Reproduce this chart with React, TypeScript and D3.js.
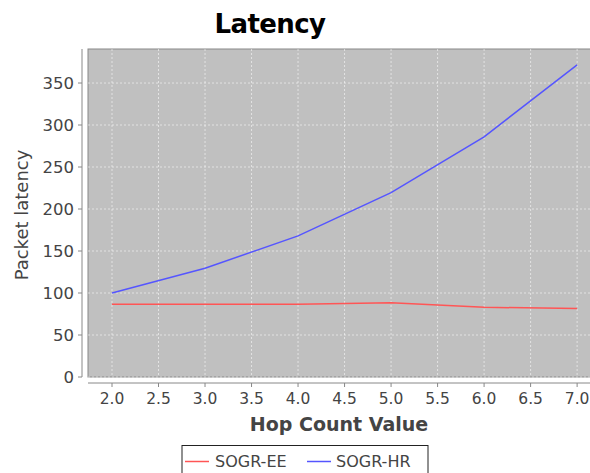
import React, { useEffect } from 'react';
import * as d3 from 'd3';

const hops = [2, 3, 4, 5, 6, 7];
const sogrEE = [86.5, 86.5, 86.5, 88.5, 83, 81.5];
const sogrHR = [100, 129.5, 168, 219.5, 286, 371.5];
const xTicks = [2, 2.5, 3, 3.5, 4, 4.5, 5, 5.5, 6, 6.5, 7];
const yTicks = [0, 50, 100, 150, 200, 250, 300, 350];
const seriesNames = ['SOGR-EE', 'SOGR-HR'];
const seriesColors = ['#ff5555', '#5555ff'];

const W = 590;
const H = 473;
const plot = { left: 88, right: 592, top: 49, bottom: 377 };

const App: React.FC = () => {
  useEffect(() => {
    document.body.style.margin = '0';
  }, []);

  const x = d3.scaleLinear().domain([1.742, 7.16]).range([plot.left, plot.right]);
  const y = d3.scaleLinear().domain([0, 390.5]).range([plot.bottom, plot.top]);

  const line = d3
    .line<number>()
    .x((_, i) => x(hops[i]))
    .y((d) => y(d));

  const font = '"DejaVu Sans", sans-serif';
  const axisColor = '#888';
  const textColor = '#444';

  return (
    <svg width={W} height={H} style={{ display: 'block' }} fontFamily={font}>
      <rect width={W} height={H} fill="#fff" />
      <text x={270} y={33} textAnchor="middle" fontSize={26} fontWeight="bold" fill="#000" letterSpacing={-0.6}>
        Latency
      </text>

      {/* plot background */}
      <rect
        x={plot.left}
        y={plot.top}
        width={plot.right - plot.left}
        height={plot.bottom - plot.top}
        fill="#c0c0c0"
        stroke={axisColor}
        strokeWidth={1}
      />
      {xTicks.map((t) => (
        <line
          key={'gx' + t}
          x1={x(t)}
          x2={x(t)}
          y1={plot.top}
          y2={plot.bottom}
          stroke="#fff"
          strokeOpacity={0.55}
          strokeDasharray="2,2"
        />
      ))}
      {yTicks.map((t) => (
        <line
          key={'gy' + t}
          x1={plot.left}
          x2={plot.right}
          y1={y(t)}
          y2={y(t)}
          stroke="#fff"
          strokeOpacity={0.55}
          strokeDasharray="2,2"
        />
      ))}

      {/* y axis */}
      <line x1={82} x2={82} y1={plot.top} y2={plot.bottom} stroke={axisColor} />
      {yTicks.map((t) => (
        <g key={'yt' + t}>
          <line x1={78} x2={82} y1={y(t)} y2={y(t)} stroke={axisColor} />
          <text x={74} y={y(t) + 6} textAnchor="end" fontSize={16.5} fill={textColor}>
            {t}
          </text>
        </g>
      ))}
      <text
        transform={`translate(28,${(plot.top + plot.bottom) / 2 + 2}) rotate(-90)`}
        textAnchor="middle"
        fontSize={18}
        fill={textColor}
      >
        Packet latency
      </text>

      {/* x axis */}
      <line x1={plot.left} x2={plot.right} y1={383} y2={383} stroke={axisColor} />
      {xTicks.map((t) => (
        <g key={'xt' + t}>
          <line x1={x(t)} x2={x(t)} y1={383} y2={387} stroke={axisColor} />
          <text x={x(t)} y={404} textAnchor="middle" fontSize={15.5} fill={textColor}>
            {t.toFixed(1)}
          </text>
        </g>
      ))}
      <text x={339} y={431} textAnchor="middle" fontSize={19} fontWeight="bold" fill={textColor}>
        Hop Count Value
      </text>

      {/* series */}
      {[sogrEE, sogrHR].map((s, i) => (
        <path key={seriesNames[i]} d={line(s) || ''} fill="none" stroke={seriesColors[i]} strokeWidth={1.5} />
      ))}

      {/* legend */}
      <rect x={182} y={445.5} width={246} height={40} fill="#fff" stroke="#222" strokeWidth={1} />
      <line x1={185} x2={209} y1={461.5} y2={461.5} stroke={seriesColors[0]} strokeWidth={1.5} />
      <text x={215} y={467} fontSize={16} fill={textColor}>
        {seriesNames[0]}
      </text>
      <line x1={307} x2={331} y1={461.5} y2={461.5} stroke={seriesColors[1]} strokeWidth={1.5} />
      <text x={336} y={467} fontSize={16} fill={textColor}>
        {seriesNames[1]}
      </text>
    </svg>
  );
};

export default App;
